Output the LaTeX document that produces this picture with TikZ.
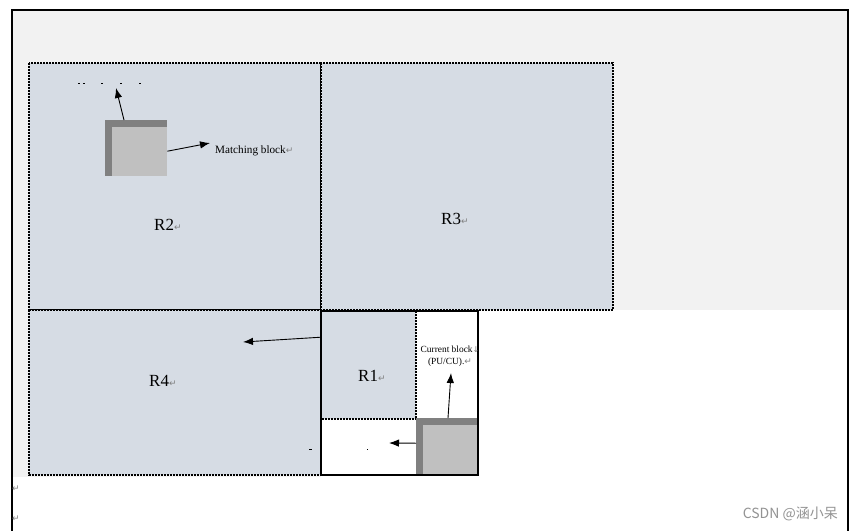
\documentclass[tikz,border=0pt]{standalone}
\usepackage{fontspec}
\setmainfont{Liberation Serif}
\newfontfamily\markfont{DejaVu Sans}
\newfontfamily\cjkfont{Noto Sans CJK SC}
\usepackage{tikz}
\usetikzlibrary{arrows.meta}
\definecolor{regblue}{HTML}{D6DCE4}
\definecolor{pagegray}{HTML}{F2F2F2}
\definecolor{blkdark}{HTML}{808080}
\definecolor{blklight}{HTML}{C0C0C0}
\newcommand{\retmark}{{\markfont\color{gray}\fontsize{9}{9}\selectfont ↵}}
\newcommand{\brkmark}{{\markfont\color{gray}\fontsize{8}{8}\selectfont ↓}}
\tikzset{
  region/.style={draw, fill=regblue, line width=2pt, dash pattern=on 2pt off 1pt},
  dotline/.style={line width=2pt, dash pattern=on 2pt off 1pt},
  blk/.style={fill=blkdark, inner sep=0pt, anchor=north west,
    path picture={\fill[blklight] ([shift={(7pt,-7pt)}]path picture bounding box.north west) rectangle (path picture bounding box.south east);}},
  ptr/.style={-{Latex[length=10pt,width=7.5pt]}, line width=0.9pt},
  rlabel/.style={anchor=west, inner sep=0pt, font=\fontsize{17}{17}\selectfont}
}
\begin{document}
\begin{tikzpicture}[x=1pt,y=-1pt]
	\useasboundingbox (0,0) rectangle (853,530);
	\fill[white] (0,0) rectangle (853,530);
	\fill[pagegray] (12,10) rectangle (848,310);
	\fill[pagegray] (12,310) rectangle (321,477);
	\draw[line width=2pt] (12,531) -- (12,10) -- (848,10) -- (848,531);
	
	\draw[region] (29,63) rectangle (321,310);
	\draw[region] (321,63) rectangle (613,310);
	\draw[region] (29,310) rectangle (321,475);
	
	\fill[white] (321,311) rectangle (478,475);
	\node[fill=regblue, inner sep=0pt, anchor=north west, minimum width=95, minimum height=108] (r1) at (321,311) {};
	\draw[dotline] (r1.north east) -- (r1.south east) -- (r1.south west);
	
	\node[blk, minimum width=62, minimum height=56] (mb) at (105,120) {};
	\node[blk, minimum width=63, minimum height=57] (cb) at (416,418) {};
	\draw[line width=2pt] (321,311) rectangle (478,475);
	
	\node[rlabel] (R2) at (154,225) {R2\retmark};
	\node[rlabel] (R3) at (441,219) {R3\retmark};
	\node[rlabel] (R4) at (149,381) {R4\retmark};
	\node[rlabel] (R1) at (358,376) {R1\retmark};
	
	\node[anchor=west, inner sep=0pt, font=\fontsize{11.2}{12}\selectfont] (mblabel) at (215,151) {Matching block\retmark};
	\node[align=center, inner sep=0pt, font=\fontsize{9.4}{12}\selectfont] (cblabel) at (450,356) {Current block\brkmark\\(PU/CU).\retmark};
	
	\coordinate (mbup) at (116,88);
	\coordinate (mbtip) at (210,143);
	\coordinate (cbup) at (451,373);
	\coordinate (cbleft) at (389,443);
	\coordinate (r1tip) at (243,342);
	\draw[ptr] ([xshift=19pt]mb.north west) -- (mbup);
	\draw[ptr] ([yshift=-3pt]mb.east) -- (mbtip);
	\draw[ptr] ([xshift=32pt]cb.north west) -- (cbup);
	\draw[ptr] ([yshift=3.5pt]cb.west) -- (cbleft);
	\draw[ptr] ([yshift=28pt]r1.west) -- (r1tip);
	
	\foreach \dx in {78,83,101,120,139}
		\fill (\dx,82.5) rectangle ++(2.2,1);
	\fill (309,449) rectangle ++(3,0.8);
	\fill (367,449) rectangle ++(1.2,0.8);
	
	\node[inner sep=0pt] (ret1) at (16,489) {\retmark};
	\node[inner sep=0pt] (ret2) at (16,519) {\retmark};
	\node[anchor=east, inner sep=0pt, text=gray!85, font=\cjkfont\fontsize{14}{16}\selectfont] (wm) at (838,514) {CSDN @涵小呆};
\end{tikzpicture}
\end{document}
